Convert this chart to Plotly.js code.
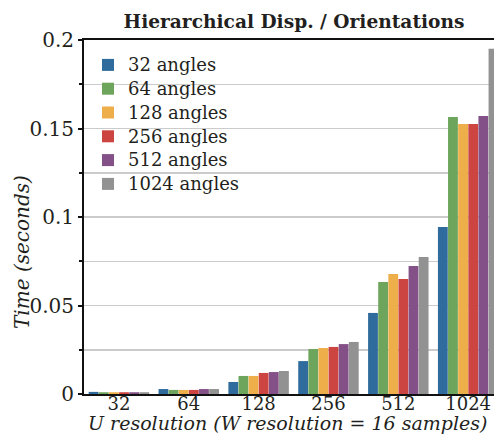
<!DOCTYPE html>
<html>
<head>
<meta charset="utf-8">
<script src="https://cdn.plot.ly/plotly-3.0.1.min.js"></script>
<style>html,body{margin:0;padding:0;background:#fff;}#chart{width:494px;height:446px;}</style>
</head>
<body>
<div id="chart"></div>
<script>
const categories = ["32", "64", "128", "256", "512", "1024"];
const seriesNames = ["32 angles", "64 angles", "128 angles", "256 angles", "512 angles", "1024 angles"];
const angles32   = [0.0012, 0.0028, 0.0068, 0.0186, 0.0458, 0.0944];
const angles64   = [0.0010, 0.0023, 0.0102, 0.0254, 0.0633, 0.1565];
const angles128  = [0.0010, 0.0023, 0.0102, 0.0260, 0.0678, 0.1525];
const angles256  = [0.0010, 0.0023, 0.0119, 0.0266, 0.0650, 0.1525];
const angles512  = [0.0010, 0.0028, 0.0124, 0.0282, 0.0723, 0.1570];
const angles1024 = [0.0010, 0.0028, 0.0130, 0.0294, 0.0774, 0.1950];
const seriesColors = ["#2f6b9c", "#6ea55c", "#eeaf4b", "#cc4540", "#835188", "#929292"];
const yTickVals = [0, 0.05, 0.1, 0.15, 0.2];
const yTickText = ["0", "0.05", "0.1", "0.15", "0.2"];

const allSeries = [angles32, angles64, angles128, angles256, angles512, angles1024];
const serif = "DejaVu Serif";
const textColor = "#231f20";

const traces = allSeries.map((vals, i) => ({
  type: "bar",
  x: categories,
  y: vals,
  name: '<span style="font-size:18px">' + seriesNames[i] + '</span>',
  marker: {color: seriesColors[i], line: {width: 0}},
  hoverinfo: "x+y"
}));

const layout = {
  width: 494, height: 446,
  margin: {l: 84, r: 0, t: 40, b: 52},
  paper_bgcolor: "#fff", plot_bgcolor: "#fff",
  font: {family: serif, color: textColor, size: 19},
  barmode: "group",
  bargap: 0.13,
  bargroupgap: 0.03,
  title: {
    text: "<b>Hierarchical Disp. / Orientations</b>",
    font: {family: serif, size: 18.6, color: textColor},
    x: 294 / 494, xanchor: "center", xref: "container",
    y: 1 - 21 / 446, yanchor: "middle", yref: "container"
  },
  showlegend: true,
  legend: {
    x: 4 / 410, xanchor: "left",
    y: 1 - 8 / 354, yanchor: "top",
    bgcolor: "rgba(0,0,0,0)",
    font: {family: serif, size: 16, color: textColor},
    traceorder: "normal",
    tracegroupgap: 0
  },
  xaxis: {
    type: "category",
    range: [-0.5, 5.37],
    showline: true, linecolor: "#111", linewidth: 2, mirror: true,
    ticks: "", showgrid: false, zeroline: false,
    tickfont: {family: serif, size: 18, color: textColor},
    ticklabelstandoff: -8,
    automargin: false,
    fixedrange: true
  },
  yaxis: {
    range: [0, 0.2],
    tickvals: yTickVals, ticktext: yTickText,
    ticks: "outside", ticklen: 4, tickwidth: 2, tickcolor: "#111",
    showline: true, linecolor: "#111", linewidth: 2,
    showgrid: true, gridcolor: "#cbcbcb", gridwidth: 1.5,
    minor: {dtick: 0.025, tick0: 0, ticks: "outside", ticklen: 3, tickwidth: 2, tickcolor: "#111", showgrid: true, gridcolor: "#cbcbcb", gridwidth: 1.5},
    zeroline: false,
    tickfont: {family: serif, size: 20, color: textColor},
    automargin: false,
    fixedrange: true
  },
  annotations: [{
    text: "<i>Time (seconds)</i>",
    textangle: -90,
    xref: "paper", x: -62 / 410, xanchor: "center",
    yref: "paper", y: (394 - 252) / 354, yanchor: "middle",
    showarrow: false,
    font: {family: serif, size: 20, color: textColor}
  }, {
    text: "<i>U resolution (W resolution = 16 samples)</i>",
    xref: "paper", x: (287 - 84) / 410, xanchor: "center",
    yref: "paper", y: (394 - 423) / 354, yanchor: "middle",
    showarrow: false,
    font: {family: serif, size: 19, color: textColor}
  }]
};

Plotly.newPlot("chart", traces, layout, {displayModeBar: false, staticPlot: true});
</script>
</body>
</html>
